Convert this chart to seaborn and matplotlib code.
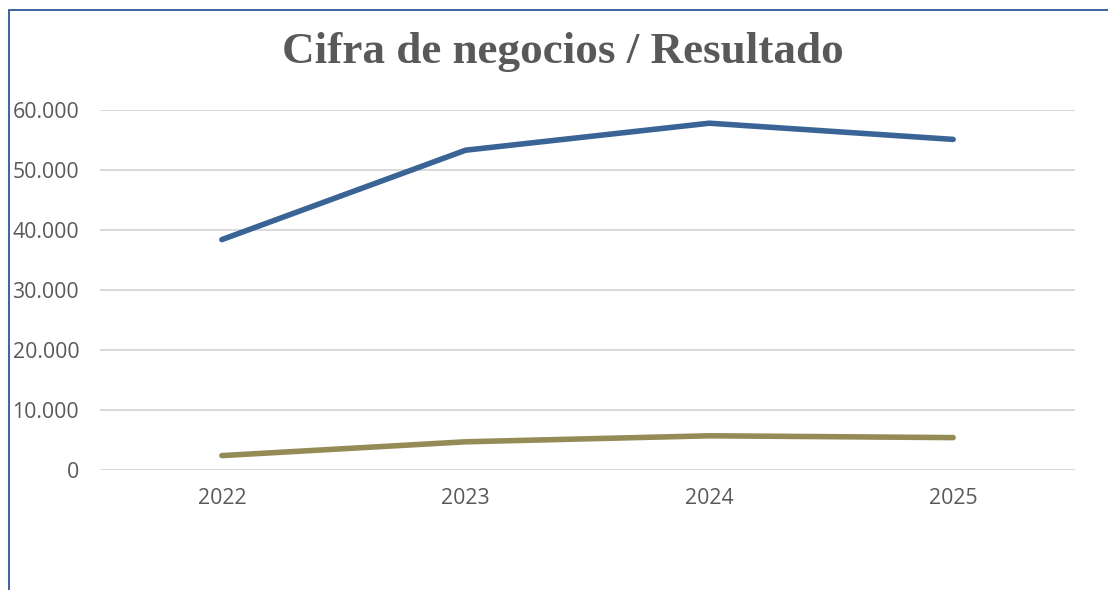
import matplotlib
matplotlib.use("Agg")
import matplotlib.pyplot as plt
import matplotlib.patches as patches
from matplotlib.ticker import FuncFormatter
import seaborn as sns
import pandas as pd

# Data
years = ["2022", "2023", "2024", "2025"]
cifra_negocios = [38400, 53300, 57800, 55100]
resultado = [2400, 4700, 5700, 5400]
series_names = ["Cifra de negocios", "Resultado"]

df = pd.DataFrame({
    "year": years * 2,
    "value": cifra_negocios + resultado,
    "serie": [series_names[0]] * 4 + [series_names[1]] * 4,
})

sns.set_style("white")
plt.rcParams["font.family"] = ["Open Sans", "DejaVu Sans"]

fig = plt.figure(figsize=(11.08, 5.90), dpi=100)
ax = fig.add_axes([100 / 1108, 1 - 470 / 590, 975 / 1108, 360 / 590])

sns.lineplot(
    data=df, x="year", y="value", hue="serie",
    palette={series_names[0]: "#3A6496", series_names[1]: "#958B56"},
    linewidth=4.0, legend=False, ax=ax, sort=False,
)
for line in ax.get_lines():
    line.set_solid_capstyle("round")
    line.set_solid_joinstyle("round")

ax.set_xlim(-0.5, 3.5)
ax.set_ylim(0, 60000)
ax.set_yticks(range(0, 60001, 10000))
ax.yaxis.set_major_formatter(FuncFormatter(lambda v, p: f"{int(v):,}".replace(",", ".")))
ax.grid(axis="y", color="#D9D9D9", linewidth=1.4)
ax.grid(axis="x", visible=False)
ax.set_axisbelow(True)
sns.despine(ax=ax, left=True, bottom=True)
ax.tick_params(axis="both", length=0, labelsize=15.3, colors="#595959")
ax.tick_params(axis="y", pad=15)
ax.tick_params(axis="x", pad=13)
ax.set_xlabel("")
ax.set_ylabel("")

fig.text(563 / 1108, 1 - 52 / 590, "Cifra de negocios / Resultado",
         ha="center", va="center", fontsize=32.5, fontweight="bold",
         color="#595959", family=["Liberation Serif", "DejaVu Serif"])

# chart border (cut off on the right and bottom)
fig.patches.append(patches.Rectangle(
    (9 / 1108, -0.1), 1.2, 1.1 - 10 / 590, transform=fig.transFigure,
    fill=False, edgecolor="#2F5597", linewidth=1.3))

fig.savefig("out.png", dpi=100)
